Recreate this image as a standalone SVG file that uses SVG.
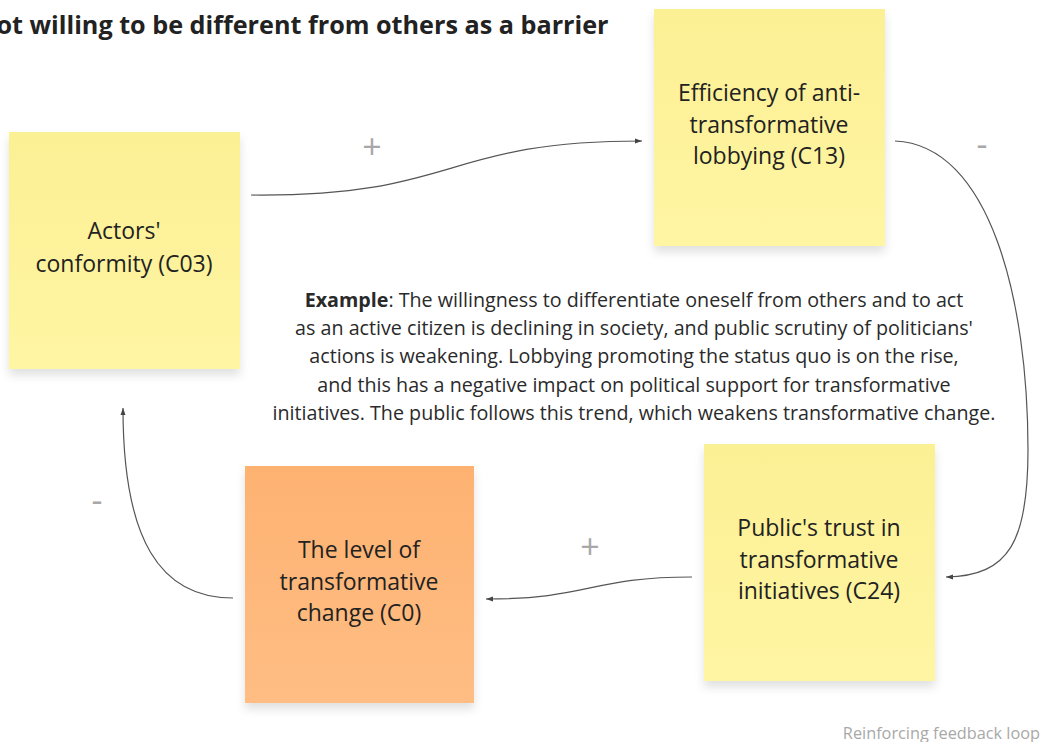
<svg xmlns="http://www.w3.org/2000/svg" width="1043" height="742" viewBox="0 0 1043 742">
<style>
.t{font-family:"Open Sans","Noto Sans",sans-serif;fill:#222}
.n{font-size:23px;text-anchor:middle}
.ex{font-size:19.7px;text-anchor:middle;fill:#2a2a2a}
.sign{font-family:"Open Sans",sans-serif;font-size:34px;fill:#a8a8a8;text-anchor:middle}
.c{fill:none;stroke:#555;stroke-width:1.2;marker-end:url(#ah)}
</style>
<defs>
<marker id="ah" viewBox="0 0 8 8" refX="7" refY="4" markerWidth="8" markerHeight="8" markerUnits="userSpaceOnUse" orient="auto"><path d="M0,1.5 L7,4 L0,6.5 z" fill="#444"/></marker>
<filter id="sh" x="-10%" y="-10%" width="120%" height="125%"><feDropShadow dx="0" dy="6" stdDeviation="5" flood-color="#000" flood-opacity="0.12"/></filter>
<linearGradient id="yg" x1="0" y1="0" x2="0" y2="1"><stop offset="0" stop-color="#fcf094"/><stop offset="1" stop-color="#fff5a3"/></linearGradient>
<linearGradient id="og" x1="0" y1="0" x2="0" y2="1"><stop offset="0" stop-color="#fdb271"/><stop offset="1" stop-color="#ffbd84"/></linearGradient>
</defs>
<rect width="1043" height="742" fill="#fff"/>
<text class="t" x="-24" y="34" font-size="25.2" font-weight="bold" fill="#1a1a1a">Not willing to be different from others as a barrier</text>
<g id="connectors">
<path class="c" d="M251,195 C460,197 440,141 642,141"/>
<path class="c" d="M895,141 C990,145 1028,300 1028,450 C1028,540 1010,576 946,577"/>
<path class="c" d="M692,577 C590,577 590,599 486,599"/>
<path class="c" d="M233,598 C160,598 123,540 123,408"/>
</g>
<g id="labels">
<text class="sign" x="372" y="159">+</text>
<text class="sign" x="982" y="156">-</text>
<text class="sign" x="590" y="559">+</text>
<text class="sign" x="97" y="512">-</text>
</g>
<g id="n-c03">
<rect x="9" y="132" width="231" height="237" fill="url(#yg)" filter="url(#sh)"/>
<text class="t n" x="124" y="239">Actors'</text>
<text class="t n" x="124" y="272">conformity (C03)</text>
</g>
<g id="n-c13">
<rect x="654" y="9" width="231" height="237" fill="url(#yg)" filter="url(#sh)"/>
<text class="t n" x="769" y="101">Efficiency of anti-</text>
<text class="t n" x="769" y="133">transformative</text>
<text class="t n" x="769" y="164">lobbying (C13)</text>
</g>
<g id="n-c24">
<rect x="704" y="444" width="231" height="237" fill="url(#yg)" filter="url(#sh)"/>
<text class="t n" x="819" y="536">Public's trust in</text>
<text class="t n" x="819" y="568">transformative</text>
<text class="t n" x="819" y="599">initiatives (C24)</text>
</g>
<g id="n-c0">
<rect x="245" y="466" width="229" height="237" fill="url(#og)" filter="url(#sh)"/>
<text class="t n" x="359" y="558">The level of</text>
<text class="t n" x="359" y="590">transformative</text>
<text class="t n" x="359" y="621">change (C0)</text>
</g>
<g id="example">
<text class="t ex" x="634" y="307"><tspan font-weight="bold">Example</tspan>: The willingness to differentiate oneself from others and to act</text>
<text class="t ex" x="634" y="335">as an active citizen is declining in society, and public scrutiny of politicians'</text>
<text class="t ex" x="634" y="363">actions is weakening. Lobbying promoting the status quo is on the rise,</text>
<text class="t ex" x="634" y="392">and this has a negative impact on political support for transformative</text>
<text class="t ex" x="634" y="420">initiatives. The public follows this trend, which weakens transformative change.</text>
</g>
<text x="1040" y="739" font-family="Open Sans, sans-serif" font-size="16.3" fill="#a8a8a8" text-anchor="end">Reinforcing feedback loop</text>
</svg>
